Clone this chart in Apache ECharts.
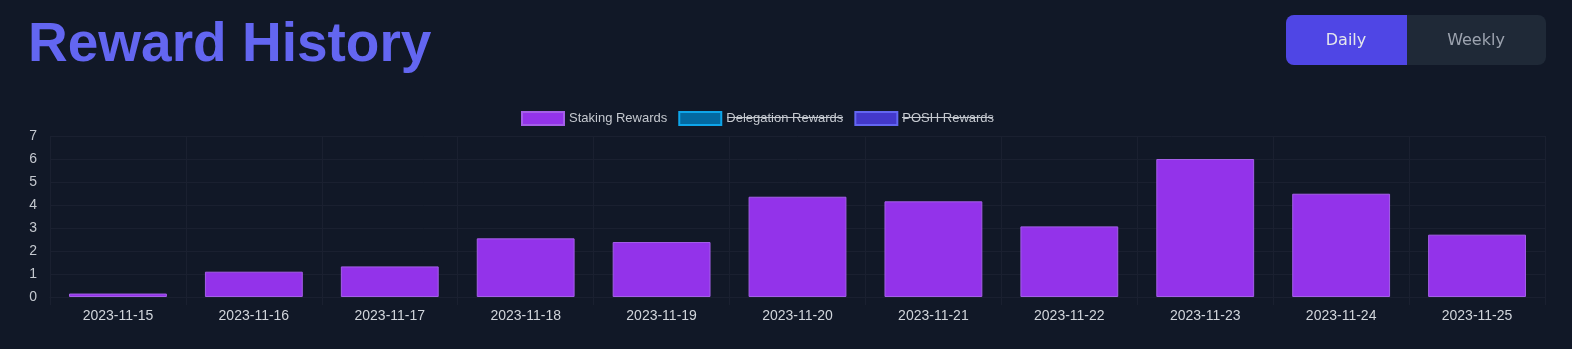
<!DOCTYPE html>
<html>
<head>
<meta charset="utf-8">
<script src="https://cdn.jsdelivr.net/npm/echarts@6/dist/echarts.min.js"></script>
<style>
html,body{margin:0;padding:0;background:#111827;}
#chart{width:1572px;height:349px;}
</style>
</head>
<body>
<div id="chart"></div>
<script>
const titleText = 'Reward History';
const buttons = ['Daily', 'Weekly'];
const categories = ['2023-11-15','2023-11-16','2023-11-17','2023-11-18','2023-11-19','2023-11-20','2023-11-21','2023-11-22','2023-11-23','2023-11-24','2023-11-25'];
const seriesNames = ['Staking Rewards', 'Delegation Rewards', 'POSH Rewards'];
const stakingRewards = [0.15, 1.1, 1.33, 2.55, 2.39, 4.36, 4.16, 3.07, 6.0, 4.49, 2.71];
const delegationRewards = [];
const poshRewards = [];
const yTicks = [0, 1, 2, 3, 4, 5, 6, 7];

const gridColor = '#1a2030';
const chart = echarts.init(document.getElementById('chart'));
chart.setOption({
  backgroundColor: '#111827',
  animation: false,
  grid: { left: 50, right: 27, top: 136, bottom: 52 },
  legend: {
    top: 106, left: 516,
    icon: 'rect', itemWidth: 42, itemHeight: 13, itemGap: 11,
    textStyle: { color: '#c4c8cf', fontSize: 13, fontFamily: 'Liberation Sans' },
    data: seriesNames
  },
  xAxis: {
    type: 'category', data: categories,
    axisLine: { show: true, lineStyle: { color: gridColor } },
    axisTick: { show: true, length: 8, lineStyle: { color: gridColor } },
    splitLine: { show: true, lineStyle: { color: gridColor } },
    axisLabel: { color: '#d1d5db', fontSize: 14, fontFamily: 'Liberation Sans', margin: 12 }
  },
  yAxis: {
    type: 'value', min: yTicks[0], max: yTicks[yTicks.length - 1], interval: 1,
    axisLine: { show: false }, axisTick: { show: false },
    splitLine: { lineStyle: { color: gridColor } },
    axisLabel: { color: '#c4c8cf', fontSize: 14, fontFamily: 'Liberation Sans', margin: 13 }
  },
  series: [
    { name: seriesNames[0], type: 'bar', stack: 'r', data: stakingRewards, barWidth: '72%',
      itemStyle: { color: '#9333ea', borderColor: '#a45fe8', borderWidth: 1 } },
    { name: seriesNames[1], type: 'bar', stack: 'r', data: delegationRewards, barWidth: '72%',
      itemStyle: { color: '#0369a1', borderColor: '#0ea5e9', borderWidth: 1 } },
    { name: seriesNames[2], type: 'bar', stack: 'r', data: poshRewards, barWidth: '72%',
      itemStyle: { color: '#4338ca', borderColor: '#6366f1', borderWidth: 1 } }
  ],
  graphic: [
    { type: 'text', left: 28, top: 18,
      style: { text: titleText, fill: '#6366f1', font: 'bold 55px "Liberation Sans"' } },
    { type: 'rect', shape: { x: 1286, y: 15, width: 260, height: 50, r: 8 }, style: { fill: '#1f2937' } },
    { type: 'rect', shape: { x: 1286, y: 15, width: 121, height: 50, r: [8, 0, 0, 8] }, style: { fill: '#4f46e5' } },
    { type: 'text', x: 1346, y: 41, style: { text: buttons[0], fill: '#e5e7eb', font: '16px "DejaVu Sans"', align: 'center', verticalAlign: 'middle' } },
    { type: 'text', x: 1476, y: 41, style: { text: buttons[1], fill: '#9ca3af', font: '16px "DejaVu Sans"', align: 'center', verticalAlign: 'middle' } },
    { type: 'line', shape: { x1: 727, y1: 117.5, x2: 843, y2: 117.5 }, style: { stroke: '#c4c8cf', lineWidth: 1 } },
    { type: 'line', shape: { x1: 902, y1: 117.5, x2: 993, y2: 117.5 }, style: { stroke: '#c4c8cf', lineWidth: 1 } }
  ]
});
</script>
</body>
</html>
